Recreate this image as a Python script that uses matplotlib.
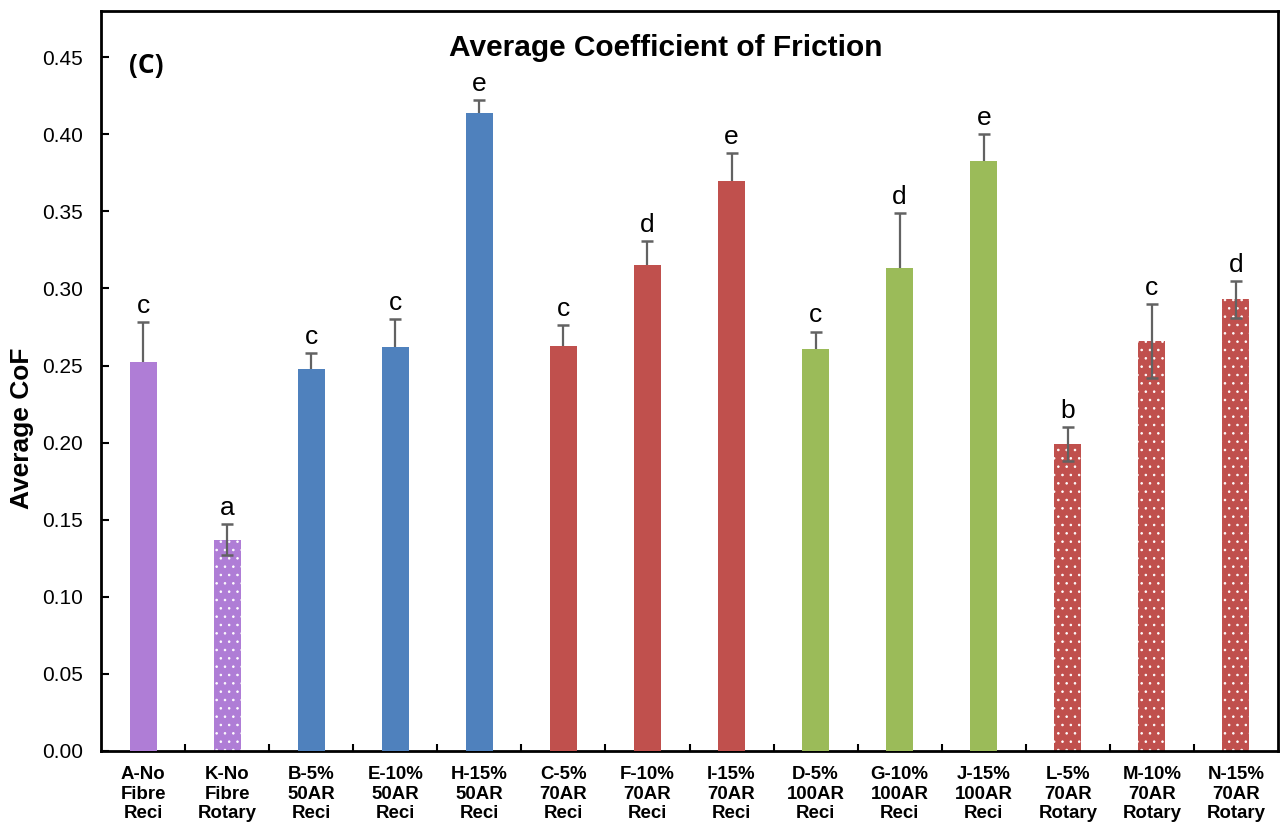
import matplotlib
matplotlib.use("Agg")
import matplotlib.pyplot as plt

plt.rcParams['font.family'] = ['Liberation Sans', 'DejaVu Sans']
plt.rcParams['hatch.linewidth'] = 0.6

categories = ["A-No\nFibre\nReci", "K-No\nFibre\nRotary", "B-5%\n50AR\nReci", "E-10%\n50AR\nReci",
              "H-15%\n50AR\nReci", "C-5%\n70AR\nReci", "F-10%\n70AR\nReci", "I-15%\n70AR\nReci",
              "D-5%\n100AR\nReci", "G-10%\n100AR\nReci", "J-15%\n100AR\nReci", "L-5%\n70AR\nRotary",
              "M-10%\n70AR\nRotary", "N-15%\n70AR\nRotary"]
cof_mean = [0.252, 0.137, 0.248, 0.262, 0.414, 0.263, 0.315, 0.370, 0.261, 0.313, 0.383, 0.199, 0.266, 0.293]
cof_err = [0.026, 0.010, 0.010, 0.018, 0.008, 0.013, 0.016, 0.018, 0.011, 0.036, 0.017, 0.011, 0.024, 0.012]
letters = ["c", "a", "c", "c", "e", "c", "d", "e", "c", "d", "e", "b", "c", "d"]
rotary = [False, True, False, False, False, False, False, False, False, False, False, True, True, True]

purple, blue, red, green = "#AF7DD6", "#4F81BD", "#C0504D", "#9BBB59"
colors = [purple, purple, blue, blue, blue, red, red, red, green, green, green, red, red, red]

fig = plt.figure(figsize=(12.84, 8.27), dpi=100)
ax = fig.add_axes([0.0787, 0.0919, 0.9166, 0.8948])

bar_w = 0.32
err_style = dict(fmt="none", ecolor="#626262", elinewidth=1.6, capsize=4.6, capthick=1.8)
x = list(range(len(categories)))
for i in x:
    if rotary[i]:
        # dotted fill for the rotary tests, error bar drawn over the bar
        ax.bar(i, cof_mean[i], width=bar_w, color=colors[i], edgecolor="white",
               linewidth=0, hatch="..", zorder=2)
        ax.errorbar(i, cof_mean[i], yerr=cof_err[i], zorder=3, **err_style)
    else:
        ax.errorbar(i, cof_mean[i], yerr=cof_err[i], zorder=2, **err_style)
        ax.bar(i, cof_mean[i], width=bar_w, color=colors[i], linewidth=0, zorder=3)
    ax.annotate(letters[i], (i, cof_mean[i] + cof_err[i]), xytext=(0, 3),
                textcoords="offset points", ha="center", va="bottom", fontsize=19)

ax.set_xlim(-0.5, len(categories) - 0.5)
ax.set_ylim(0, 0.48)
ax.set_yticks([k * 0.05 for k in range(10)])
ax.set_yticklabels([f"{k * 0.05:.2f}" for k in range(10)], fontsize=15)
ax.set_xticks(x)
ax.set_xticklabels(categories, fontsize=13.4, fontweight="bold", linespacing=1.2)
ax.tick_params(axis="x", length=0, pad=11)
ax.set_xticks([i + 0.5 for i in x[:-1]], minor=True)
ax.tick_params(axis="x", which="minor", direction="in", length=5, width=1.5)
ax.tick_params(axis="y", direction="in", length=6, width=1.5, pad=13)

for s in ax.spines.values():
    s.set_linewidth(2)
    s.set_color("black")

fig.text(22 / 1284, 1 - 428 / 827, "Average CoF", rotation=90, ha="center", va="center",
         fontsize=19, fontweight="bold")
ax.text(0.48, 0.939, "Average Coefficient of Friction", transform=ax.transAxes,
        ha="center", va="baseline", fontsize=21.5, fontweight="bold")
ax.text(0.024, 0.927, "(C)", transform=ax.transAxes, ha="left", va="center",
        fontsize=19, fontweight="bold", family=["Open Sans", "DejaVu Sans"])

fig.savefig("out.png", dpi=100)
